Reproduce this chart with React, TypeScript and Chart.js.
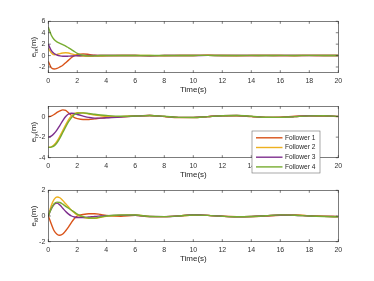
import React, { useEffect, useRef } from "react";
import { Chart, registerables } from "chart.js";

Chart.register(...registerables);

const FONT = "'Liberation Sans', Arial, Helvetica, sans-serif";

const SERIES_NAMES = ["Follower 1", "Follower 2", "Follower 3", "Follower 4"];
const COLORS = ["#D95319", "#EDB120", "#7E2F8E", "#77AC30"];

const TIME = [0, 0.2, 0.4, 0.6, 0.8, 1.0, 1.2, 1.4, 1.6, 1.8, 2.0, 2.4, 2.8, 3.2, 3.6, 4, 5, 6, 7, 8, 9, 10, 11, 12, 13, 14, 15, 16, 17, 18, 19, 20];
const X_TICKS = [0, 2, 4, 6, 8, 10, 12, 14, 16, 18, 20];

// e_ix
const EX_F1 = [-1, -2.1, -2.35, -2.25, -2.0, -1.7, -1.25, -0.8, -0.35, 0.0, 0.2, 0.3, 0.2, 0.05, 0, 0, 0.02, 0, -0.03, 0, 0.02, 0, 0.05, 0, 0.02, 0, 0.03, 0, 0.02, 0.03, 0, 0];
const EX_F2 = [1.3, 0.5, 0.15, 0.2, 0.35, 0.45, 0.5, 0.45, 0.3, 0.15, 0.02, -0.1, -0.12, -0.1, -0.08, -0.05, 0, 0.02, 0, -0.02, 0, 0.02, 0.05, 0, -0.02, 0, 0.02, 0, -0.02, 0.02, 0, 0];
const EX_F3 = [2.0, 0.9, 0.35, 0.1, -0.05, -0.12, -0.12, -0.1, -0.08, -0.05, -0.03, 0, 0, 0, 0, 0, 0.02, 0, -0.02, 0, 0.02, 0, 0.03, 0, 0, 0.02, 0, 0.02, 0, 0.02, 0, 0];
const EX_F4 = [5.0, 3.6, 2.8, 2.4, 2.15, 1.9, 1.65, 1.35, 1.05, 0.7, 0.4, 0.05, -0.05, -0.05, 0, 0, 0.02, 0, 0.02, 0, 0, 0.02, 0.04, 0, 0.02, 0.03, 0, 0.03, 0.02, 0.04, 0.02, 0];
const EX_TICKS = [-2, 0, 2, 4, 6];

// e_iy
const EY_F1 = [0, 0.05, 0.2, 0.4, 0.55, 0.65, 0.6, 0.35, 0.1, -0.1, -0.2, -0.28, -0.28, -0.22, -0.15, -0.1, -0.02, 0.05, 0.1, 0, -0.1, -0.1, 0, 0.08, 0.08, 0, -0.08, -0.05, 0.03, 0.08, 0.05, 0];
const EY_F2 = [-3, -2.95, -2.75, -2.4, -1.9, -1.35, -0.8, -0.3, 0.05, 0.3, 0.38, 0.35, 0.25, 0.15, 0.08, 0.02, 0, 0.05, 0.1, 0.02, -0.08, -0.08, 0, 0.08, 0.1, 0.02, -0.08, -0.08, 0, 0.08, 0.08, 0.02];
const EY_F3 = [-2, -1.9, -1.65, -1.3, -0.85, -0.4, 0, 0.25, 0.33, 0.3, 0.2, 0.05, -0.08, -0.15, -0.15, -0.12, -0.05, 0.05, 0.1, 0.02, -0.08, -0.08, 0, 0.08, 0.1, 0.02, -0.08, -0.08, 0, 0.08, 0.08, 0.02];
const EY_F4 = [-3, -2.97, -2.85, -2.55, -2.1, -1.55, -1.0, -0.5, -0.1, 0.2, 0.33, 0.36, 0.3, 0.22, 0.15, 0.1, 0.03, 0.05, 0.1, 0.03, -0.08, -0.09, 0, 0.08, 0.1, 0.03, -0.07, -0.08, 0, 0.07, 0.08, 0.02];
const EY_TICKS = [-4, -2, 0];

// e_itheta
const ET_F1 = [0, -0.6, -1.15, -1.42, -1.5, -1.4, -1.15, -0.85, -0.5, -0.2, 0, 0.12, 0.18, 0.18, 0.12, 0.05, -0.02, 0.05, -0.05, -0.05, 0, 0.08, 0.05, -0.02, -0.05, -0.05, 0, 0.05, 0.08, 0.02, -0.02, -0.05];
const ET_F2 = [0, 0.8, 1.3, 1.48, 1.42, 1.2, 0.95, 0.7, 0.45, 0.25, 0.08, -0.1, -0.18, -0.18, -0.1, -0.03, 0.05, 0.08, -0.03, -0.05, 0, 0.08, 0.05, -0.02, -0.06, -0.04, 0.02, 0.08, 0.08, 0, -0.03, -0.05];
const ET_F3 = [0, 0.55, 0.9, 1.0, 0.85, 0.6, 0.35, 0.15, 0.0, -0.08, -0.12, -0.12, -0.08, -0.03, 0, 0.03, 0.05, 0.06, -0.04, -0.05, 0, 0.1, 0.05, -0.02, -0.06, -0.04, 0.02, 0.08, 0.06, 0, -0.03, -0.05];
const ET_F4 = [0, 0.55, 0.95, 1.08, 1.05, 0.92, 0.75, 0.6, 0.45, 0.3, 0.15, -0.05, -0.15, -0.15, -0.08, 0, 0.08, 0.08, -0.04, -0.05, 0, 0.08, 0.05, -0.02, -0.06, -0.04, 0.02, 0.09, 0.06, 0, -0.04, -0.06];
const ET_TICKS = [-2, 0, 2];

const X_LABEL = "Time(s)";

const CANVAS_W = 374;
const CANVAS_H = 97;

const framePlugin = {
  id: "frame",
  afterDraw(chart: any, _args: any, opts: any) {
    const { ctx, chartArea: a, scales } = chart;
    ctx.save();
    ctx.strokeStyle = "#262626";
    ctx.lineWidth = 0.6;
    ctx.strokeRect(a.left, a.top, a.right - a.left, a.bottom - a.top);
    const L = 2.5;
    ctx.beginPath();
    scales.x.ticks.forEach((t: any) => {
      const px = scales.x.getPixelForValue(t.value);
      ctx.moveTo(px, a.bottom);
      ctx.lineTo(px, a.bottom - L);
      ctx.moveTo(px, a.top);
      ctx.lineTo(px, a.top + L);
    });
    scales.y.ticks.forEach((t: any) => {
      const py = scales.y.getPixelForValue(t.value);
      ctx.moveTo(a.left, py);
      ctx.lineTo(a.left + L, py);
      ctx.moveTo(a.right, py);
      ctx.lineTo(a.right - L, py);
    });
    ctx.stroke();

    // y title with subscript
    const main = "8px " + FONT;
    const sub = "5.6px " + FONT;
    ctx.fillStyle = "#262626";
    ctx.textBaseline = "middle";
    ctx.font = main;
    const w1 = ctx.measureText("e").width;
    const w3 = ctx.measureText("(m)").width;
    ctx.font = sub;
    const w2 = ctx.measureText(opts.sub).width;
    const total = w1 + w2 + w3;
    ctx.translate(opts.titleX, (a.top + a.bottom) / 2);
    ctx.rotate(-Math.PI / 2);
    let x = -total / 2;
    ctx.font = main;
    ctx.textAlign = "left";
    ctx.fillText("e", x, 0);
    x += w1;
    ctx.font = sub;
    ctx.fillText(opts.sub, x, 2.2);
    x += w2;
    ctx.font = main;
    ctx.fillText("(m)", x, 0);
    ctx.restore();

    if (opts.legend) {
      const lg = opts.legend;
      ctx.save();
      ctx.fillStyle = "#ffffff";
      ctx.strokeStyle = "#6e6e6e";
      ctx.lineWidth = 0.6;
      ctx.fillRect(lg.x, lg.y, lg.w, lg.h);
      ctx.strokeRect(lg.x, lg.y, lg.w, lg.h);
      ctx.font = "6.6px " + FONT;
      ctx.textBaseline = "middle";
      ctx.textAlign = "left";
      SERIES_NAMES.forEach((name, i) => {
        const y = lg.y + 6.8 + i * 9.7;
        ctx.strokeStyle = COLORS[i];
        ctx.lineWidth = 1.4;
        ctx.beginPath();
        ctx.moveTo(lg.x + 4, y);
        ctx.lineTo(lg.x + 30.5, y);
        ctx.stroke();
        ctx.fillStyle = "#262626";
        ctx.fillText(name, lg.x + 33, y);
      });
      ctx.restore();
    }
  },
};

function makeChart(canvas: HTMLCanvasElement, series: number[][], yMin: number, yMax: number, yTicks: number[], sub: string, legend: any) {
  return new Chart(canvas, {
    type: "line",
    data: {
      datasets: series.map((vals, i) => ({
        label: SERIES_NAMES[i],
        data: TIME.map((t, k) => ({ x: t, y: vals[k] })),
        borderColor: COLORS[i],
        backgroundColor: COLORS[i],
        borderWidth: 1.4,
        pointRadius: 0,
        cubicInterpolationMode: "monotone",
        fill: false,
        order: 4 - i,
      })),
    },
    options: {
      responsive: false,
      animation: false,
      devicePixelRatio: 1,
      layout: { padding: { top: 21.3, right: 35.7, left: 0, bottom: 0 } },
      plugins: {
        legend: { display: false },
        tooltip: { enabled: false },
        frame: { sub, titleX: 34, legend },
      } as any,
      scales: {
        x: {
          type: "linear",
          min: 0,
          max: 20,
          afterBuildTicks: (s: any) => {
            s.ticks = X_TICKS.map((v) => ({ value: v }));
          },
          afterFit: (s: any) => {
            s.height = 24.3;
          },
          grid: { display: false, drawTicks: false },
          border: { display: false },
          ticks: { font: { size: 7, family: FONT }, color: "#333", padding: 4, maxRotation: 0, autoSkip: false },
          title: { display: true, text: X_LABEL, font: { size: 8, family: FONT }, color: "#262626", padding: { top: 0, bottom: 2.5 } },
        },
        y: {
          type: "linear",
          min: yMin,
          max: yMax,
          afterBuildTicks: (s: any) => {
            s.ticks = yTicks.map((v) => ({ value: v }));
          },
          afterFit: (s: any) => {
            s.width = 48.3;
          },
          grid: { display: false, drawTicks: false },
          border: { display: false },
          ticks: { font: { size: 7, family: FONT }, color: "#333", padding: 3, autoSkip: false },
        },
      },
    } as any,
    plugins: [framePlugin],
  });
}

export default function App() {
  const r1 = useRef<HTMLCanvasElement>(null);
  const r2 = useRef<HTMLCanvasElement>(null);
  const r3 = useRef<HTMLCanvasElement>(null);

  useEffect(() => {
    const c1 = makeChart(r1.current!, [EX_F1, EX_F2, EX_F3, EX_F4], -3, 6, EX_TICKS, "ix", null);
    const c2 = makeChart(r2.current!, [EY_F1, EY_F2, EY_F3, EY_F4], -4, 1, EY_TICKS, "iy", { x: 252, y: 46, w: 68, h: 42 });
    const c3 = makeChart(r3.current!, [ET_F1, ET_F2, ET_F3, ET_F4], -2, 2, ET_TICKS, "iθ", null);
    return () => {
      c1.destroy();
      c2.destroy();
      c3.destroy();
    };
  }, []);

  const cs = (top: number): React.CSSProperties => ({ position: "absolute", left: 0, top, width: CANVAS_W, height: CANVAS_H });

  return (
    <div style={{ position: "absolute", left: 0, top: 0, width: 374, height: 281, background: "#fff" }}>
      <canvas ref={r1} width={CANVAS_W} height={CANVAS_H} style={cs(0)} />
      <canvas ref={r2} width={CANVAS_W} height={CANVAS_H} style={cs(85)} />
      <canvas ref={r3} width={CANVAS_W} height={CANVAS_H} style={cs(169)} />
    </div>
  );
}
